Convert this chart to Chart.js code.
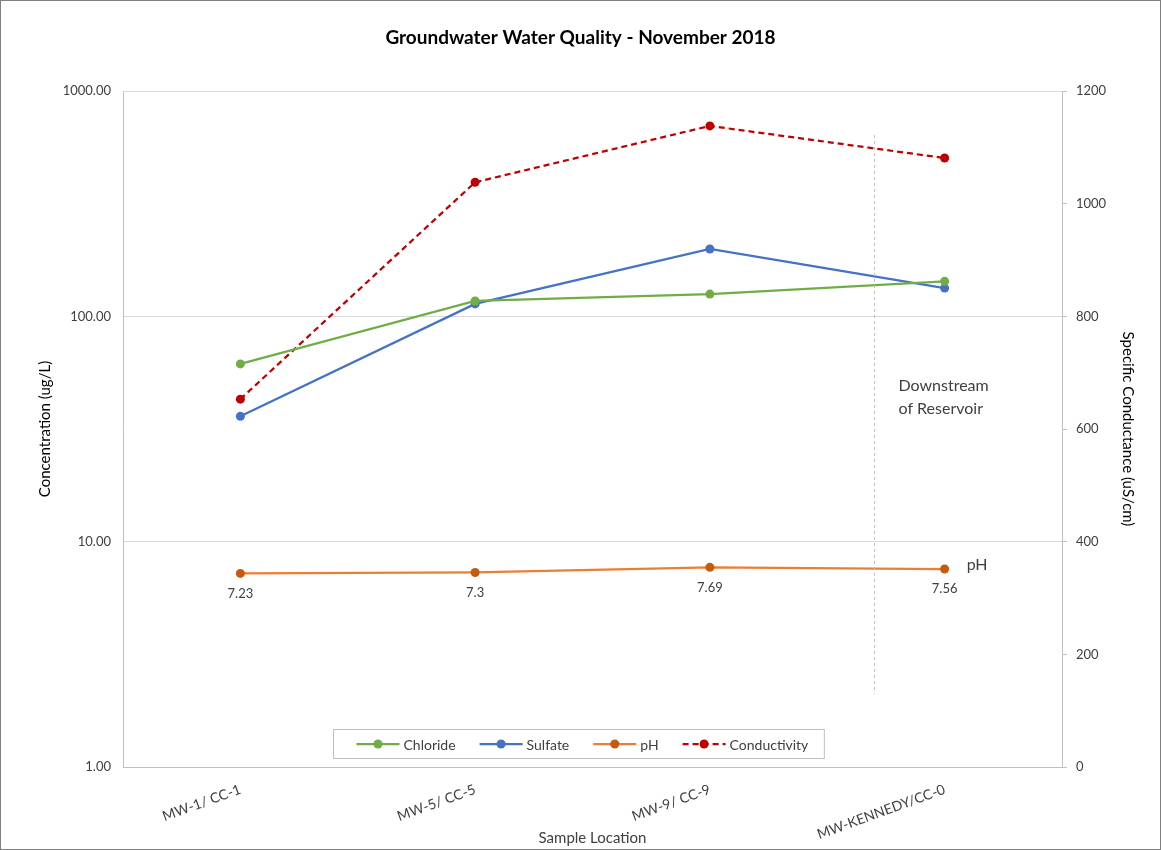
<!DOCTYPE html>
<html>
<head>
<meta charset="utf-8">
<script src="https://cdn.jsdelivr.net/npm/chart.js@4.4.1/dist/chart.umd.min.js"></script>
<style>
    body { margin: 0; background: #fff; }
    #wrap { position: relative; width: 1161px; height: 850px; }
    #frame { position: absolute; left: 0; top: 0; width: 1161px; height: 850px; box-sizing: border-box; border: 1px solid #7f7f7f; pointer-events: none; }
</style>
</head>
<body>
<div id="wrap">
    <canvas id="qualityChart" width="1161" height="850"></canvas>
    <div id="frame"></div>
</div>
<script>
// Data
const locations = ['MW-1/ CC-1', 'MW-5/ CC-5', 'MW-9/ CC-9', 'MW-KENNEDY/CC-0'];
const chloride = [61.5, 117, 125.5, 143];
const sulfate = [36, 113.5, 199, 133.5];
const ph = [7.23, 7.3, 7.69, 7.56];
const conductivity = [653, 1038, 1138, 1081];
const concentrationTicks = [1, 10, 100, 1000];
const conductanceTicks = [0, 200, 400, 600, 800, 1000, 1200];

const textColor = '#404040';
const fontFamily = 'Lato, "Open Sans", sans-serif';

// Notes, pH labels, divider and in-plot legend
const overlayPlugin = {
    id: 'overlay',
    afterDatasetsDraw(chart) {
        const ctx = chart.ctx;
        const x = chart.scales.x;
        const yR = chart.scales.yRight;
        const area = chart.chartArea;

        ctx.save();

        // dashed divider before downstream site
        const divX = Math.round(x.getPixelForValue(2.7)) + 0.5;
        ctx.strokeStyle = '#bfbfbf';
        ctx.lineWidth = 1;
        ctx.setLineDash([3, 3]);
        ctx.beginPath();
        ctx.moveTo(divX, yR.getPixelForValue(1122));
        ctx.lineTo(divX, yR.getPixelForValue(130));
        ctx.stroke();
        ctx.setLineDash([]);

        ctx.fillStyle = textColor;
        ctx.font = '16px ' + fontFamily;
        ctx.textAlign = 'left';
        ctx.textBaseline = 'middle';
        ctx.fillText('Downstream', divX + 24, yR.getPixelForValue(676));
        ctx.fillText('of Reservoir', divX + 24, yR.getPixelForValue(676) + 23);

        // pH value labels
        const phMeta = chart.getDatasetMeta(2);
        ctx.font = '13px ' + fontFamily;
        ctx.textAlign = 'center';
        phMeta.data.forEach((pt, i) => {
            ctx.fillText(String(ph[i]), pt.x, pt.y + 20);
        });
        const lastPh = phMeta.data[phMeta.data.length - 1];
        ctx.font = '16px ' + fontFamily;
        ctx.textAlign = 'left';
        ctx.fillText('pH', lastPh.x + 22, lastPh.y - 4);

        // legend box inside the plot
        ctx.font = '14px ' + fontFamily;
        const lineLen = 43, textGap = 4, itemGap = 24, padL = 23, padR = 16;
        const items = chart.data.datasets.map(ds => ({ ds, w: ctx.measureText(ds.label).width }));
        let total = padL + padR;
        items.forEach((it, i) => { total += lineLen + textGap + it.w + (i ? itemGap : 0); });
        const boxH = 29;
        const boxX = Math.round(chart.width / 2 - 2 - total / 2) + 0.5;
        const boxY = Math.round(area.bottom - 38) + 0.5;
        ctx.fillStyle = '#fff';
        ctx.fillRect(boxX, boxY, total, boxH);
        ctx.strokeStyle = '#bfbfbf';
        ctx.strokeRect(boxX, boxY, total, boxH);
        let cx = boxX + padL;
        const cy = boxY + boxH / 2;
        items.forEach((it, i) => {
            if (i) cx += itemGap;
            ctx.strokeStyle = it.ds.borderColor;
            ctx.lineWidth = 2.25;
            ctx.setLineDash(it.ds.borderDash || []);
            ctx.beginPath();
            ctx.moveTo(cx, cy);
            ctx.lineTo(cx + lineLen, cy);
            ctx.stroke();
            ctx.setLineDash([]);
            ctx.fillStyle = it.ds.pointBackgroundColor;
            ctx.beginPath();
            ctx.arc(cx + lineLen / 2, cy, 4.5, 0, Math.PI * 2);
            ctx.fill();
            ctx.fillStyle = textColor;
            ctx.textAlign = 'left';
            ctx.fillText(it.ds.label, cx + lineLen + textGap, cy + 1);
            cx += lineLen + textGap + it.w;
        });

        ctx.restore();
    }
};

const ctx = document.getElementById('qualityChart');
new Chart(ctx, {
    type: 'line',
    data: {
        labels: locations,
        datasets: [
            {
                label: 'Chloride', data: chloride, yAxisID: 'y',
                borderColor: '#70ad47', pointBackgroundColor: '#70ad47', pointBorderColor: '#70ad47'
            },
            {
                label: 'Sulfate', data: sulfate, yAxisID: 'y',
                borderColor: '#4472c4', pointBackgroundColor: '#4472c4', pointBorderColor: '#4472c4'
            },
            {
                label: 'pH', data: ph, yAxisID: 'y',
                borderColor: '#ed7d31', pointBackgroundColor: '#c55a11', pointBorderColor: '#c55a11'
            },
            {
                label: 'Conductivity', data: conductivity, yAxisID: 'yRight',
                borderColor: '#c00000', pointBackgroundColor: '#c00000', pointBorderColor: '#c00000',
                borderDash: [6, 4]
            }
        ]
    },
    options: {
        responsive: false,
        animation: false,
        layout: { padding: 0 },
        elements: {
            line: { borderWidth: 2.25, tension: 0 },
            point: { radius: 4.5, borderWidth: 0 }
        },
        plugins: {
            legend: { display: false },
            tooltip: { enabled: false },
            title: {
                display: true,
                text: 'Groundwater Water Quality - November 2018',
                color: '#000',
                font: { family: fontFamily, size: 19, weight: 'bold' },
                padding: { top: 26.6, bottom: 41.6 }
            }
        },
        scales: {
            x: {
                offset: true,
                grid: { display: false },
                border: { display: true, color: '#bfbfbf', width: 1 },
                ticks: {
                    color: textColor, font: { family: fontFamily, size: 14 },
                    minRotation: 20, maxRotation: 20, padding: 6
                },
                title: {
                    display: true, text: 'Sample Location', color: textColor,
                    font: { family: fontFamily, size: 15 }, padding: { top: 0, bottom: 3 }
                },
                afterFit: (scale) => { scale.height = 83; }
            },
            y: {
                type: 'logarithmic',
                position: 'left',
                min: 1, max: 1000,
                afterBuildTicks: (scale) => { scale.ticks = concentrationTicks.map(v => ({ value: v })); },
                grid: { color: '#d9d9d9', drawTicks: false },
                border: { display: true, color: '#bfbfbf' },
                ticks: {
                    color: textColor, font: { family: fontFamily, size: 13 }, padding: 12,
                    callback: (v) => Number(v).toFixed(2)
                },
                title: {
                    display: true, text: 'Concentration (ug/L)', color: '#000',
                    font: { family: fontFamily, size: 15 }, padding: { top: 36, bottom: 0 }
                },
                afterFit: (scale) => { scale.width = 123; }
            },
            yRight: {
                type: 'linear',
                position: 'right',
                min: 0, max: 1200,
                afterBuildTicks: (scale) => { scale.ticks = conductanceTicks.map(v => ({ value: v })); },
                grid: { drawOnChartArea: false, drawTicks: true, tickLength: 5, color: '#bfbfbf' },
                border: { display: true, color: '#bfbfbf' },
                ticks: {
                    color: textColor, font: { family: fontFamily, size: 13 }, padding: 9,
                    callback: (v) => String(v)
                },
                title: {
                    display: true, text: 'Specific Conductance (uS/cm)', color: '#000',
                    font: { family: fontFamily, size: 15 }, padding: { top: 24, bottom: 0 }
                },
                afterFit: (scale) => { scale.width = 99; }
            }
        }
    },
    plugins: [overlayPlugin]
});
</script>
</body>
</html>
